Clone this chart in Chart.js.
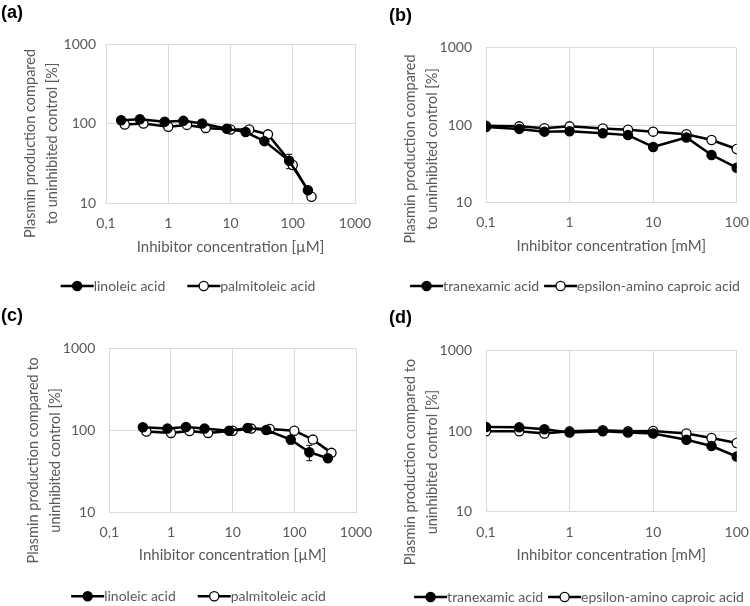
<!DOCTYPE html>
<html>
<head>
<meta charset="utf-8">
<script src="https://cdn.jsdelivr.net/npm/chart.js@4.4.1/dist/chart.umd.min.js"></script>
<style>
body { margin: 0; background: #fff; }
#wrap { position: relative; width: 750px; height: 606px; }
.panel { position: absolute; width: 375px; height: 303px; }
.panel canvas { position: absolute; left: 0; top: 0; }
.tag { position: absolute; font: bold 18px "Liberation Sans", Arial, sans-serif; line-height: 20px; color: #000; }
</style>
</head>
<body>
<div id="wrap">
    <div class="panel" style="left:0;top:0"><canvas id="chartA" width="375" height="303"></canvas></div>
    <div class="panel" style="left:375px;top:0"><canvas id="chartB" width="375" height="303"></canvas></div>
    <div class="panel" style="left:0;top:303px"><canvas id="chartC" width="375" height="303"></canvas></div>
    <div class="panel" style="left:375px;top:303px"><canvas id="chartD" width="375" height="303"></canvas></div>
    <div class="tag" style="left:1px;top:2px">(a)</div>
    <div class="tag" style="left:389px;top:5px">(b)</div>
    <div class="tag" style="left:1px;top:305px">(c)</div>
    <div class="tag" style="left:389px;top:307px">(d)</div>
</div>
<script>
// axis ticks
const uMTicks = [0.1, 1, 10, 100, 1000];
const uMTickLabels = ['0,1', '1', '10', '100', '1000'];
const mMTicks = [0.1, 1, 10, 100];
const mMTickLabels = ['0,1', '1', '10', '100'];
const yTicks = [10, 100, 1000];
const yTickLabels = ['10', '100', '1000'];

// (a) fatty acids [µM]
const linoleicA_x = [0.175, 0.35, 0.875, 1.75, 3.5, 8.75, 17.5, 35, 87.5, 175];
const linoleicA_y = [110, 113, 105, 108, 100, 86, 78, 60, 34, 14.5];
const linoleicA_err = [0, 0, 0, 0, 0, 0, 0, 4, 7, 1];
const palmitoleicA_x = [0.2, 0.4, 1, 2, 4, 10, 20, 40, 100, 200];
const palmitoleicA_y = [97, 100, 91, 96, 88, 84, 84, 73, 30, 12];
const palmitoleicA_err = [0, 0, 0, 0, 0, 0, 0, 0, 2, 0];

// (b) lysine analogues [mM]
const mM_x = [0.1, 0.25, 0.5, 1, 2.5, 5, 10, 25, 50, 100];
const tranexamicB_y = [94, 89, 82, 83, 78, 74, 52, 69, 41, 28];
const epsilonB_y = [98, 96, 91, 96, 90, 87, 82, 76, 64, 49];

// (c) fatty acids [µM]
const linoleicC_x = [0.35, 0.875, 1.75, 3.5, 8.75, 17.5, 35, 87.5, 175, 350];
const linoleicC_y = [109, 105, 110, 105, 99, 107, 101, 77, 54, 45.5];
const linoleicC_err = [0, 0, 0, 0, 0, 0, 0, 9, 11.5, 3];
const palmitoleicC_x = [0.4, 1, 2, 4, 10, 20, 40, 100, 200, 400];
const palmitoleicC_y = [97, 93, 98, 93, 99, 105, 104, 99, 77, 53];

// (d) lysine analogues [mM]
const tranexamicD_y = [112, 111, 105, 96, 99, 96, 93, 78, 65, 48];
const epsilonD_y = [99, 99, 93, 99, 102, 99, 100, 93, 82, 71];

const grey = '#595959';
const gridGrey = '#d9d9d9';
const fontName = 'Lato';

function points(xs, ys) {
    const out = [];
    for (let i = 0; i < xs.length; i++) {
        out.push({ x: xs[i], y: ys[i] });
    }
    return out;
}

function series(label, xs, ys, filled, err) {
    return {
        label: label,
        data: points(xs, ys),
        err: err || [],
        borderColor: '#000',
        backgroundColor: filled ? '#000' : '#fff',
        borderWidth: 2.5,
        pointRadius: 4.6,
        pointHoverRadius: 4.6,
        pointBorderWidth: 1.3,
        pointBorderColor: '#000',
        pointBackgroundColor: filled ? '#000' : '#fff',
        fill: false,
        tension: 0
    };
}

// error bars, drawn under the lines
const errorBars = {
    id: 'errorBars',
    beforeDatasetsDraw(chart) {
        const ctx = chart.ctx;
        const xs = chart.scales.x;
        const ys = chart.scales.y;
        ctx.save();
        ctx.strokeStyle = '#000';
        ctx.lineWidth = 1;
        chart.data.datasets.forEach(function (ds) {
            ds.data.forEach(function (p, i) {
                const e = ds.err[i];
                if (!e) return;
                const px = xs.getPixelForValue(p.x);
                const top = ys.getPixelForValue(p.y + e);
                const bot = ys.getPixelForValue(p.y - e);
                ctx.beginPath();
                ctx.moveTo(px, top); ctx.lineTo(px, bot);
                ctx.moveTo(px - 3, top); ctx.lineTo(px + 3, top);
                ctx.moveTo(px - 3, bot); ctx.lineTo(px + 3, bot);
                ctx.stroke();
            });
        });
        ctx.restore();
    }
};

// excel style legend symbol: line with marker in the middle
const legendMarks = {
    id: 'legendMarks',
    afterDraw(chart) {
        const lg = chart.legend;
        if (!lg || !lg.legendHitBoxes) return;
        const ctx = chart.ctx;
        ctx.save();
        lg.legendHitBoxes.forEach(function (hb, i) {
            const ds = chart.data.datasets[i];
            const cy = hb.top + hb.height / 2;
            ctx.strokeStyle = '#000';
            ctx.lineWidth = 2.5;
            ctx.beginPath();
            ctx.moveTo(hb.left + 2, cy);
            ctx.lineTo(hb.left + 35, cy);
            ctx.stroke();
            ctx.beginPath();
            ctx.arc(hb.left + 18.5, cy, 4.6, 0, Math.PI * 2);
            ctx.fillStyle = ds.pointBackgroundColor;
            ctx.fill();
            ctx.lineWidth = 1.3;
            ctx.stroke();
        });
        ctx.restore();
    }
};

// y title, two lines, centred a bit lower than the plot area like in excel
const sideTitle = {
    id: 'sideTitle',
    afterDraw(chart, args, opts) {
        const a = chart.chartArea;
        const ctx = chart.ctx;
        ctx.save();
        ctx.fillStyle = grey;
        ctx.font = '14.5px ' + fontName;
        ctx.textAlign = 'center';
        ctx.textBaseline = 'middle';
        opts.lines.forEach(function (t, i) {
            ctx.save();
            ctx.translate(a.left + opts.dx[i], (a.top + a.bottom) / 2 + opts.dy);
            ctx.rotate(-Math.PI / 2);
            ctx.fillText(t, 0, 0);
            ctx.restore();
        });
        ctx.restore();
    }
};

function makeChart(id, cfg) {
    return new Chart(document.getElementById(id), {
        type: 'line',
        data: { datasets: cfg.datasets },
        plugins: [errorBars, legendMarks, sideTitle],
        options: {
            responsive: false,
            animation: false,
            events: [],
            layout: { padding: { left: cfg.padL, right: cfg.padR, top: cfg.padT, bottom: 0 } },
            plugins: {
                tooltip: { enabled: false },
                legend: {
                    position: 'bottom',
                    maxHeight: cfg.legendH,
                    labels: {
                        boxWidth: 28,
                        boxHeight: 0,
                        padding: cfg.legendGap,
                        font: { family: fontName, size: 14 },
                        generateLabels: function (ch) {
                            return ch.data.datasets.map(function (ds, i) {
                                return {
                                    text: ds.label,
                                    datasetIndex: i,
                                    fillStyle: 'rgba(0,0,0,0)',
                                    strokeStyle: 'rgba(0,0,0,0)',
                                    lineWidth: 0,
                                    fontColor: grey,
                                    hidden: false
                                };
                            });
                        }
                    }
                },
                sideTitle: { lines: cfg.yTitle, dx: [-76, -54], dy: cfg.dy }
            },
            scales: {
                x: {
                    type: 'logarithmic',
                    min: cfg.xTicks[0],
                    max: cfg.xTicks[cfg.xTicks.length - 1],
                    afterBuildTicks: function (s) {
                        s.ticks = cfg.xTicks.map(function (v) { return { value: v }; });
                    },
                    afterFit: function (s) {
                        s.height = cfg.xH;
                        s.paddingLeft = 0;
                        s.paddingRight = cfg.xPadR;
                    },
                    ticks: {
                        callback: function (v, i) { return cfg.xLabels[i]; },
                        color: grey,
                        font: { family: fontName, size: 14 },
                        padding: cfg.xTickPad,
                        maxRotation: 0,
                        autoSkip: false
                    },
                    grid: { color: gridGrey, drawTicks: false },
                    border: { color: gridGrey },
                    title: {
                        display: true,
                        text: cfg.xTitle,
                        color: grey,
                        font: { family: fontName, size: 15 },
                        padding: { top: 0, bottom: cfg.xTitlePad }
                    }
                },
                y: {
                    type: 'logarithmic',
                    min: yTicks[0],
                    max: yTicks[yTicks.length - 1],
                    afterBuildTicks: function (s) {
                        s.ticks = yTicks.map(function (v) { return { value: v }; });
                    },
                    afterFit: function (s) {
                        s.width = cfg.yW;
                        s.paddingTop = 0;
                        s.paddingBottom = 0;
                    },
                    ticks: {
                        callback: function (v, i) { return yTickLabels[i]; },
                        color: grey,
                        font: { family: fontName, size: 14 },
                        padding: cfg.yTickPad
                    },
                    grid: { color: gridGrey, drawTicks: false },
                    border: { color: gridGrey }
                }
            }
        }
    });
}

const titleUM = 'Inhibitor concentration [\u00b5M]';
const titleMM = 'Inhibitor concentration [mM]';

const ChartA = makeChart('chartA', {
    datasets: [
        series('linoleic acid', linoleicA_x, linoleicA_y, true, linoleicA_err),
        series('palmitoleic acid', palmitoleicA_x, palmitoleicA_y, false, palmitoleicA_err)
    ],
    xTicks: uMTicks, xLabels: uMTickLabels, xTitle: titleUM,
    yTitle: ['Plasmin production compared', 'to uninhibited control [%]'],
    padL: 0, padR: 1, padT: 44, yW: 106, xPadR: 20,
    legendGap: 20, legendH: 44, xH: 56, xTickPad: 11.6, xTitlePad: 3, yTickPad: 10, dy: 20
});

const ChartB = makeChart('chartB', {
    datasets: [
        series('tranexamic acid', mM_x, tranexamicB_y, true),
        series('epsilon-amino caproic acid', mM_x, epsilonB_y, false)
    ],
    xTicks: mMTicks, xLabels: mMTickLabels, xTitle: titleMM,
    yTitle: ['Plasmin production compared', 'to uninhibited control [%]'],
    padL: 23, padR: 0, padT: 47.7, yW: 88, xPadR: 13.3,
    legendGap: 3, legendH: 27, xH: 73.7, xTickPad: 12, xTitlePad: 21, yTickPad: 14, dy: 24
});

const ChartC = makeChart('chartC', {
    datasets: [
        series('linoleic acid', linoleicC_x, linoleicC_y, true, linoleicC_err),
        series('palmitoleic acid', palmitoleicC_x, palmitoleicC_y, false)
    ],
    xTicks: uMTicks, xLabels: uMTickLabels, xTitle: titleUM,
    yTitle: ['Plasmin production compared to', 'uninhibited control [%]'],
    padL: 20, padR: 0, padT: 45.7, yW: 89.3, xPadR: 19,
    legendGap: 20, legendH: 36.7, xH: 57.3, xTickPad: 11.6, xTitlePad: 5.6, yTickPad: 14, dy: 30
});

const ChartD = makeChart('chartD', {
    datasets: [
        series('tranexamic acid', mM_x, tranexamicD_y, true),
        series('epsilon-amino caproic acid', mM_x, epsilonD_y, false)
    ],
    xTicks: mMTicks, xLabels: mMTickLabels, xTitle: titleMM,
    yTitle: ['Plasmin production compared to', 'uninhibited control [%]'],
    padL: 31, padR: 0, padT: 47.7, yW: 80, xPadR: 13.3,
    legendGap: 3, legendH: 19, xH: 75.7, xTickPad: 12.3, xTitlePad: 22.7, yTickPad: 14, dy: 31
});
</script>
</body>
</html>
